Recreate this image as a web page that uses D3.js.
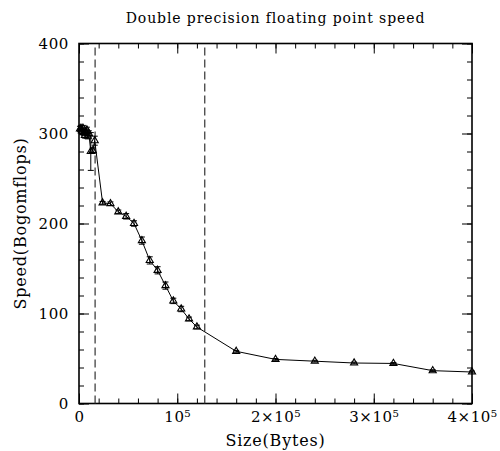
<!DOCTYPE html>
<html>
<head>
<meta charset="utf-8">
<script src="https://cdn.jsdelivr.net/npm/d3@7"></script>
<style>
  body { margin: 0; background: #fff; }
  text { font-family: "DejaVu Serif", serif; fill: #000; }
  .domain { display: none; }
</style>
</head>
<body>
<div class="chart"></div>
<script>
// sizes in bytes, speed in bogomflops, err = half length of error bar
const sizes = [1000, 2000, 3000, 4000, 5000, 6000, 7000, 8000, 9000, 10000,
    12000, 14000, 16000, 24000, 32000, 40000, 48000, 56000, 64000, 72000,
    80000, 88000, 96000, 104000, 112000, 120000, 160000, 200000, 240000,
    280000, 320000, 360000, 400000];
const speeds = [305, 306, 303, 306, 301, 298, 302, 304, 297, 300,
    280, 281, 292, 223, 222, 213, 208, 200, 181, 159,
    148, 131, 114, 105, 94, 85, 58, 49, 47,
    45, 44.5, 36.5, 35];
const errs = [3, 3, 3, 3, 3, 3, 3, 3, 3, 3,
    21, 3, 5, 1.5, 2, 2, 3, 3, 4, 4,
    4, 4, 3, 3, 2, 2, 1, 1, 1,
    1, 1, 1, 1];
const cacheLines = [16384, 128000];
const xTicks = [0, 100000, 200000, 300000, 400000];
const xTickLabels = ["0", "10\u2075", "2\u00d710\u2075", "3\u00d710\u2075", "4\u00d710\u2075"];
const yTicks = [0, 100, 200, 300, 400];

const width = 500,
    height = 451,
    margin = ({ top: 43.5, right: 28, bottom: 47.5, left: 79 });

const data = sizes.map((s, i) => ({ size: s, speed: speeds[i], err: errs[i] }));

const x = d3.scaleLinear()
    .domain([0, 400000])
    .range([margin.left, width - margin.right]);

const y = d3.scaleLinear()
    .domain([0, 400])
    .range([height - margin.bottom, margin.top]);

const svg = d3.select(".chart").append("svg")
    .attr("width", width)
    .attr("height", height);

const minorX = d3.range(0, 400001, 20000);
const minorY = d3.range(0, 401, 20);

// bottom axis, ticks point inward
svg.append("g")
    .attr("transform", `translate(0,${y(0)})`)
    .call(d3.axisBottom(x).tickValues(minorX).tickSize(-5).tickFormat(""));
svg.append("g")
    .attr("transform", `translate(0,${y(0)})`)
    .call(d3.axisBottom(x).tickValues(xTicks).tickSize(-10).tickPadding(8)
        .tickFormat((d, i) => xTickLabels[i]))
    .selectAll("text")
    .style("font-size", "15px")
    .style("letter-spacing", "0.6px");

// top axis
svg.append("g")
    .attr("transform", `translate(0,${y(400)})`)
    .call(d3.axisTop(x).tickValues(minorX).tickSize(-5).tickFormat(""));
svg.append("g")
    .attr("transform", `translate(0,${y(400)})`)
    .call(d3.axisTop(x).tickValues(xTicks).tickSize(-10).tickFormat(""));

// left axis
svg.append("g")
    .attr("transform", `translate(${x(0)},0)`)
    .call(d3.axisLeft(y).tickValues(minorY).tickSize(-5).tickFormat(""));
svg.append("g")
    .attr("transform", `translate(${x(0)},0)`)
    .call(d3.axisLeft(y).tickValues(yTicks).tickSize(-10).tickPadding(10))
    .selectAll("text")
    .style("font-size", "15px")
    .style("letter-spacing", "0.6px");

// right axis
svg.append("g")
    .attr("transform", `translate(${x(400000)},0)`)
    .call(d3.axisRight(y).tickValues(minorY).tickSize(-5).tickFormat(""));
svg.append("g")
    .attr("transform", `translate(${x(400000)},0)`)
    .call(d3.axisRight(y).tickValues(yTicks).tickSize(-10).tickFormat(""));

svg.selectAll(".tick line").attr("stroke", "#000");

// frame
svg.append("rect")
    .attr("x", x(0))
    .attr("y", y(400))
    .attr("width", x(400000) - x(0))
    .attr("height", y(0) - y(400))
    .attr("fill", "none")
    .attr("stroke", "#000")
    .attr("stroke-width", 1.6);

// cache size markers
svg.append("g")
    .selectAll("line")
    .data(cacheLines)
    .join("line")
    .attr("x1", d => x(d))
    .attr("x2", d => x(d))
    .attr("y1", y(0))
    .attr("y2", y(400))
    .attr("stroke", "#333")
    .attr("stroke-width", 1.2)
    .attr("stroke-dasharray", "8,4");

// connecting line
svg.append("path")
    .datum(data)
    .attr("fill", "none")
    .attr("stroke", "#000")
    .attr("stroke-width", 1)
    .attr("d", d3.line().x(d => x(d.size)).y(d => y(d.speed)));

// error bars
svg.append("g")
    .attr("stroke", "#000")
    .attr("stroke-width", 1)
    .attr("fill", "none")
    .selectAll("path")
    .data(data)
    .join("path")
    .attr("d", d => `
        M${x(d.size)},${y(d.speed - d.err)}V${y(d.speed + d.err)}
        M${x(d.size) - 3},${y(d.speed - d.err)}h6
        M${x(d.size) - 3},${y(d.speed + d.err)}h6
    `);

// triangles
svg.append("g")
    .selectAll("path")
    .data(data)
    .join("path")
    .attr("transform", d => `translate(${x(d.size)},${y(d.speed)})`)
    .attr("d", d3.symbol(d3.symbolTriangle, 22))
    .attr("fill", "none")
    .attr("stroke", "#000")
    .attr("stroke-width", 1.1);

// title and axis labels
svg.append("text")
    .attr("x", (x(0) + x(400000)) / 2)
    .attr("y", 23)
    .attr("text-anchor", "middle")
    .style("font-size", "14px")
    .style("letter-spacing", "0.9px")
    .text("Double precision floating point speed");

svg.append("text")
    .attr("x", (x(0) + x(400000)) / 2)
    .attr("y", 446)
    .attr("text-anchor", "middle")
    .style("font-size", "16px")
    .style("letter-spacing", "0.8px")
    .text("Size(Bytes)");

svg.append("text")
    .attr("transform", `translate(26,${(y(0) + y(400)) / 2}) rotate(-90)`)
    .attr("text-anchor", "middle")
    .style("font-size", "16px")
    .style("letter-spacing", "0.8px")
    .text("Speed(Bogomflops)");
</script>
</body>
</html>
